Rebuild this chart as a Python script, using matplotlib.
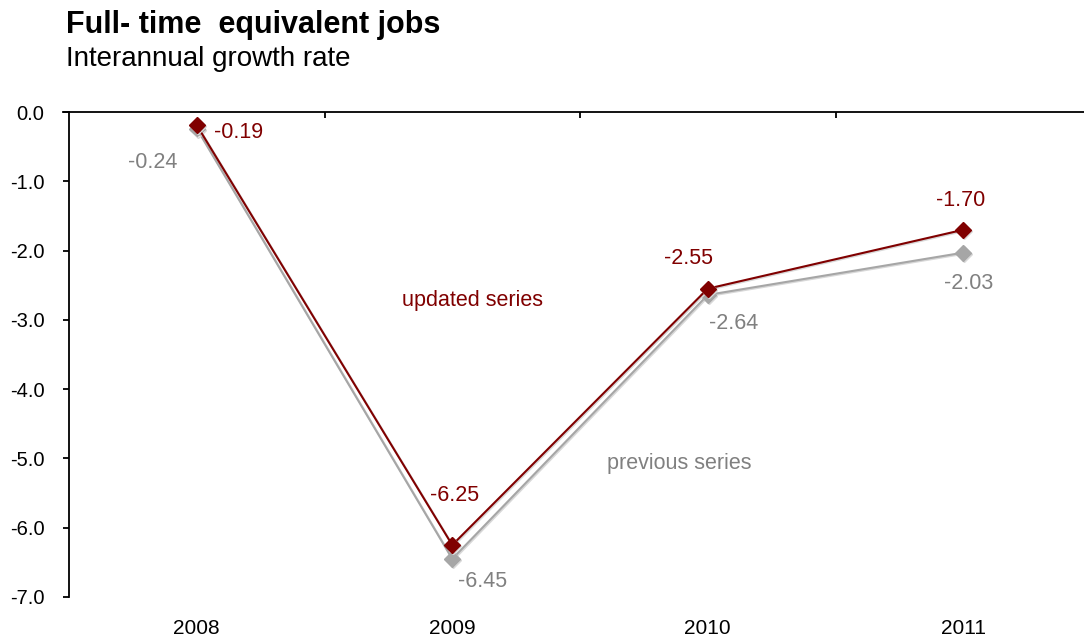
import matplotlib
matplotlib.use("Agg")
import matplotlib.pyplot as plt
import matplotlib.patheffects as pe
from matplotlib.ticker import FixedLocator, FixedFormatter

plt.rcParams['font.family'] = ['Liberation Sans', 'DejaVu Sans']

years = ["2008", "2009", "2010", "2011"]
updated = [-0.19, -6.25, -2.55, -1.70]
previous = [-0.24, -6.45, -2.64, -2.03]
yticks = [0.0, -1.0, -2.0, -3.0, -4.0, -5.0, -6.0, -7.0]

RED = "#800000"
GREY = "#A6A6A6"
GREY_TXT = "#808080"

fig = plt.figure(figsize=(10.84, 6.41), dpi=100)
ax = fig.add_axes([69 / 1084, 44 / 641, 1022 / 1084, 485 / 641])

x = list(range(len(years)))
shadow = [pe.SimpleLineShadow(offset=(0.8, -0.8), shadow_color="#d8d8d8", alpha=1.0), pe.Normal()]
ax.plot(x, previous, color=GREY, lw=1.5, marker="D", ms=8, mec=GREY, mfc=GREY,
        path_effects=shadow, zorder=2, clip_on=False)
ax.plot(x, updated, color=RED, lw=1.5, marker="D", ms=8, mec=RED, mfc=RED,
        path_effects=shadow, zorder=3, clip_on=False)

ax.set_xlim(-0.5, 3.5)
ax.set_ylim(-7.0, 0.0)

# value labels (offsets in pixels relative to each point)
upd_off = [(17, -7, "left"), (2, 50, "center"), (-19, 30, "center"), (-3, 29, "center")]
prev_off = [(-19, -34, "right"), (30, -23, "center"), (26, -29, "center"), (5, -31, "center")]
for i, v in enumerate(updated):
    dx, dy, ha = upd_off[i]
    ax.annotate(f"{v:.2f}", (i, v), xytext=(dx, dy), textcoords="offset pixels",
                ha=ha, va="center", color=RED, fontsize=15.5, zorder=5)
for i, v in enumerate(previous):
    dx, dy, ha = prev_off[i]
    ax.annotate(f"{v:.2f}", (i, v), xytext=(dx, dy), textcoords="offset pixels",
                ha=ha, va="center", color=GREY_TXT, fontsize=15.5, zorder=5)

# series names
ax.text(1.08, -2.72, "updated series", color=RED, fontsize=15.5, ha="center", va="center")
ax.text(1.89, -5.08, "previous series", color=GREY_TXT, fontsize=15.5, ha="center", va="center")

# axes styling
for s in ["right", "bottom"]:
    ax.spines[s].set_visible(False)
ax.spines["left"].set_linewidth(1.3)
ax.spines["top"].set_linewidth(1.3)
ax.spines["left"].set_bounds(-7.0, 0.0)

ax.yaxis.set_major_locator(FixedLocator(yticks))
ax.yaxis.set_major_formatter(FixedFormatter([f"{t:.1f}" for t in yticks]))
ax.tick_params(axis="y", direction="out", length=4.3, width=1.3, pad=13.5, labelsize=14.5, colors="black")

ax.set_xticks(x)
ax.set_xticklabels(years)
ax.tick_params(axis="x", which="major", bottom=False, top=False, length=0, pad=16, labelsize=15)
ax.set_xticks([0.5, 1.5, 2.5], minor=True)
ax.tick_params(axis="x", which="minor", top=True, bottom=False, direction="in", length=4.3, width=1.3)

# extend top axis line slightly left of the y axis
ax.plot([-0.5 - 6 / 255.5, -0.5], [0, 0], color="black", lw=1.3, clip_on=False, zorder=4)

fig.text(66 / 1084, 1 - 25 / 641, "Full- time  equivalent jobs", fontsize=22, fontweight="bold",
         ha="left", va="center")
fig.text(66 / 1084, 1 - 59 / 641, "Interannual growth rate", fontsize=20, ha="left", va="center")

fig.savefig("out.png", dpi=100)
